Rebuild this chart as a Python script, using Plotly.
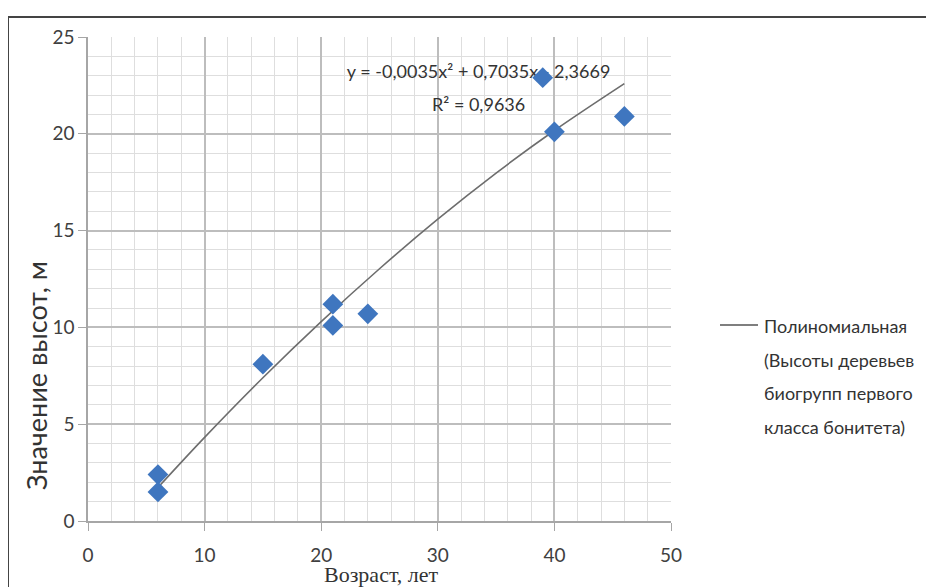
import plotly.graph_objects as go

# Data
age = [6, 6, 15, 21, 21, 24, 39, 40, 46]
height = [1.5, 2.4, 8.1, 10.1, 11.2, 10.7, 22.9, 20.1, 20.9]

trend_x = [6, 10, 15, 20, 25, 30, 35, 40, 46]
trend_y = [1.73, 4.32, 7.40, 10.30, 13.03, 15.59, 17.97, 20.17, 22.59]

x_ticks = [0, 10, 20, 30, 40, 50]
y_ticks = [0, 5, 10, 15, 20, 25]

equation = "y = -0,0035x² + 0,7035x - 2,3669"
r2 = "R² = 0,9636"
legend_lines = ["Полиномиальная", "(Высоты деревьев", "биогрупп первого", "класса бонитета)"]
x_title = "Возраст, лет"
y_title = "Значение высот, м"

W, H = 934, 587
OFF = 8  # page body margin
# target screen positions of the plot area
SX0, SX1, SY0, SY1 = 88, 671, 37, 521
L = SX0 - OFF
T = SY0 - OFF
R = W - (SX1 - OFF)
B = H - (SY1 - OFF)
pw, ph = W - L - R, H - T - B


def px(xs):
    return (xs - SX0) / pw


def py(ys):
    return (SY1 - ys) / ph


SANS = "Lato, Carlito, Roboto, sans-serif"
SERIF = "Liberation Serif, Times New Roman, serif"

fig = go.Figure()

fig.add_trace(go.Scatter(
    x=trend_x, y=trend_y, mode="lines", line=dict(color="#6d6d6d", width=1.6, shape="spline"),
    showlegend=False, hoverinfo="skip", cliponaxis=False,
))

fig.add_trace(go.Scatter(
    x=[33.5, 33.5], y=[23.1, 21.4], mode="text", text=[equation, r2],
    textfont=dict(family=SANS, size=18, color="#333333"), showlegend=False, hoverinfo="skip",
))

fig.add_trace(go.Scatter(
    x=age, y=height, mode="markers",
    marker=dict(symbol="diamond", size=16, color="#3f76bf"),
    showlegend=False, cliponaxis=False,
))

axis_common = dict(
    showline=True, linecolor="#a6a6a6", linewidth=1.5,
    showgrid=True, gridcolor="#bdbdbd", gridwidth=1.5,
    ticks="outside", tickcolor="#a6a6a6", ticklen=8,
    zeroline=False, tickfont=dict(family=SANS, size=19, color="#404040"),
    mirror=False,
)

fig.update_xaxes(
    range=[0, 50], tickvals=x_ticks, ticktext=[str(v) for v in x_ticks],
    minor=dict(dtick=2, showgrid=True, gridcolor="#dedede", gridwidth=1.2),
    ticklabelstandoff=8,
    **axis_common,
)
fig.update_yaxes(
    range=[0, 25], tickvals=y_ticks, ticktext=[str(v) for v in y_ticks],
    minor=dict(dtick=1, showgrid=True, gridcolor="#dedede", gridwidth=1.2),
    **axis_common,
)

annotations = [
    dict(text=x_title, xref="paper", yref="paper", x=px(381), y=py(574), showarrow=False,
         font=dict(family=SERIF, size=22, color="#333333"), xanchor="center", yanchor="middle"),
    dict(text=y_title, xref="paper", yref="paper", x=px(36), y=py(376), showarrow=False,
         textangle=-90, font=dict(family=SANS, size=27, color="#333333"), xanchor="center", yanchor="middle"),
]
for i, line in enumerate(legend_lines):
    annotations.append(dict(
        text=line, xref="paper", yref="paper", x=px(762), y=py(326 + i * 33.5), showarrow=False,
        font=dict(family=SANS, size=18, color="#333333"), xanchor="left", yanchor="middle",
    ))

shapes = [
    dict(type="line", xref="paper", yref="paper", x0=px(720), x1=px(758), y0=py(325), y1=py(325),
         line=dict(color="#555555", width=1.6)),
    dict(type="line", xref="paper", yref="paper", x0=px(8), x1=px(950), y0=py(17), y1=py(17),
         line=dict(color="#444444", width=2)),
    dict(type="line", xref="paper", yref="paper", x0=px(8), x1=px(8), y0=py(17), y1=py(610),
         line=dict(color="#444444", width=2)),
]

fig.update_layout(
    width=W, height=H, margin=dict(l=L, r=R, t=T, b=B),
    paper_bgcolor="white", plot_bgcolor="white",
    annotations=annotations, shapes=shapes, showlegend=False,
)

fig.write_html("out.html")
